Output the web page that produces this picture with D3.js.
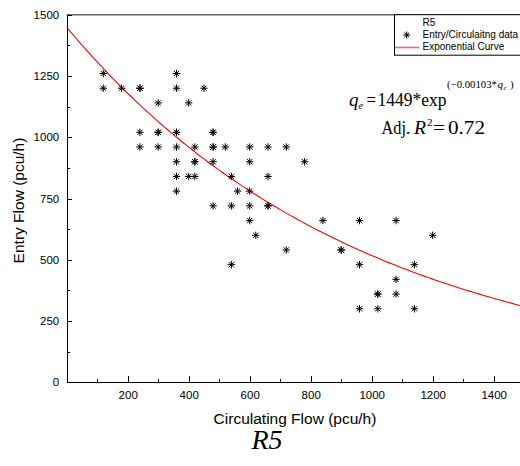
<!DOCTYPE html>
<html>
<head>
<meta charset="utf-8">
<script src="https://cdn.jsdelivr.net/npm/d3@7/dist/d3.min.js"></script>
<style>
  body { margin: 0; background: #fff; }
  svg { display: block; font-family: "Liberation Sans", Arial, sans-serif; }
  .axis path, .axis line { stroke: #000; shape-rendering: crispEdges; }
  .axis text { font-family: "Liberation Sans", Arial, sans-serif; font-size: 11.5px; fill: #000; }
  .label { font-size: 15.5px; fill: #000; }
  .serif { font-family: "Liberation Serif", "Times New Roman", serif; fill: #000; }
  .legend text { font-size: 10px; fill: #000; }
</style>
</head>
<body>
<div id="chart"></div>
<script>
(function () {
  // circulating flow (pcu/h) of every observation
  const circFlow = [
    120, 120, 180, 240, 240, 360, 360, 360, 450,
    300, 400,
    240, 300, 300, 360, 360, 480, 480,
    240, 300, 360, 420, 480, 480, 520, 600, 660, 720,
    360, 420, 420, 480, 600, 780,
    360, 400, 420, 540, 660,
    360, 560, 600,
    480, 540, 600, 660, 660,
    600, 840, 960, 1080,
    620, 1200,
    720, 900, 900,
    540, 960, 1140,
    1080,
    1020, 1020, 1080,
    960, 1020, 1140
  ];
  // entry flow (pcu/h), same order
  const entryFlow = [
    1260, 1200, 1200, 1200, 1200, 1260, 1260, 1200, 1200,
    1140, 1140,
    1020, 1020, 1020, 1020, 1020, 1020, 1020,
    960, 960, 960, 960, 960, 960, 960, 960, 960, 960,
    900, 900, 900, 900, 900, 900,
    840, 840, 840, 840, 840,
    780, 780, 780,
    720, 720, 720, 720, 720,
    660, 660, 660, 660,
    600, 600,
    540, 540, 540,
    480, 480, 480,
    420,
    360, 360, 360,
    300, 300, 300
  ];

  // fitted curve q_e = 1449 * exp(-0.00103 * q_c)
  const fitA = 1449;
  const fitB = -0.00103;

  const xTicks = [200, 400, 600, 800, 1000, 1200, 1400];
  const xMinor = [100, 300, 500, 700, 900, 1100, 1300, 1500];
  const yTicks = [0, 250, 500, 750, 1000, 1250, 1500];
  const yMinor = [125, 375, 625, 875, 1125, 1375];

  const legendLabels = ["R5", "Entry/Circulaitng data", "Exponential Curve"];

  const width = 520, height = 466;
  const plot = {left: 66.7, top: 14.7, right: 524.2, bottom: 382.3};

  const svg = d3.select("#chart").append("svg")
    .attr("width", width)
    .attr("height", height);

  const x = d3.scaleLinear().domain([0, 1500]).range([plot.left, plot.right]);
  const y = d3.scaleLinear().domain([0, 1500]).range([plot.bottom, plot.top]);

  // top frame line
  svg.append("line")
    .attr("x1", plot.left).attr("x2", width)
    .attr("y1", plot.top).attr("y2", plot.top)
    .attr("stroke", "#666")
    .attr("stroke-width", 1.6);

  // minor ticks first, then the main axes on top
  svg.append("g")
    .attr("class", "axis")
    .attr("transform", "translate(0," + plot.bottom + ")")
    .call(d3.axisBottom(x).tickValues(xMinor).tickSizeInner(-3.5).tickSizeOuter(0).tickFormat(""))
    .call(g => g.select(".domain").remove());

  svg.append("g")
    .attr("class", "axis")
    .attr("transform", "translate(" + plot.left + ",0)")
    .call(d3.axisLeft(y).tickValues(yMinor).tickSizeInner(-3).tickSizeOuter(0).tickFormat(""))
    .call(g => g.select(".domain").remove());

  svg.append("g")
    .attr("class", "axis")
    .attr("transform", "translate(0," + plot.bottom + ")")
    .call(d3.axisBottom(x).tickValues(xTicks).tickSizeInner(-6.5).tickSizeOuter(0)
      .tickPadding(9).tickFormat(d3.format("d")));

  svg.append("g")
    .attr("class", "axis")
    .attr("transform", "translate(" + plot.left + ",0)")
    .call(d3.axisLeft(y).tickValues(yTicks).tickSizeInner(-5).tickSizeOuter(0)
      .tickPadding(7.5).tickFormat(d3.format("d")));

  // axis titles
  svg.append("text")
    .attr("class", "label")
    .attr("x", 295)
    .attr("y", 423.5)
    .attr("text-anchor", "middle")
    .text("Circulating Flow (pcu/h)");

  svg.append("text")
    .attr("class", "label")
    .attr("transform", "translate(24," + ((plot.top + plot.bottom) / 2 + 2) + ") rotate(-90)")
    .attr("text-anchor", "middle")
    .text("Entry Flow (pcu/h)");

  // fitted curve
  const curveX = d3.range(0, 1501, 10);
  const line = d3.line()
    .x(function (d) { return x(d); })
    .y(function (d) { return y(fitA * Math.exp(fitB * d)); });

  svg.append("path")
    .attr("d", line(curveX))
    .attr("fill", "none")
    .attr("stroke", "#ff0000")
    .attr("stroke-width", 1.1);

  // asterisk markers
  function star(g, r) {
    [0, 45, 90, 135].forEach(function (a) {
      const t = a * Math.PI / 180;
      g.append("line")
        .attr("x1", -r * Math.cos(t)).attr("y1", -r * Math.sin(t))
        .attr("x2", r * Math.cos(t)).attr("y2", r * Math.sin(t));
    });
  }

  const points = svg.append("g")
    .attr("stroke", "#000")
    .attr("stroke-width", 1);

  circFlow.forEach(function (c, i) {
    const g = points.append("g")
      .attr("transform", "translate(" + x(c) + "," + y(entryFlow[i]) + ")");
    star(g, 3.7);
  });

  // legend
  const legend = svg.append("g").attr("class", "legend");
  legend.append("rect")
    .attr("x", 394.5).attr("y", plot.top)
    .attr("width", 140).attr("height", 40.5)
    .attr("fill", "#fff")
    .attr("stroke", "#000")
    .attr("stroke-width", 1);

  legendLabels.forEach(function (t, i) {
    legend.append("text")
      .attr("x", 422.5)
      .attr("y", 26 + i * 12.2)
      .text(t);
  });

  const ls = legend.append("g")
    .attr("transform", "translate(406.7,35)")
    .attr("stroke", "#000")
    .attr("stroke-width", 1);
  star(ls, 3.4);

  legend.append("line")
    .attr("x1", 395).attr("x2", 419.5)
    .attr("y1", 47.5).attr("y2", 47.5)
    .attr("stroke", "#ff6060")
    .attr("stroke-width", 1.6);

  // equation, each piece placed like the MathType object
  const eq = svg.append("g").attr("class", "serif");
  function put(tx, ty, str, size, italic, len) {
    const t = eq.append("text")
      .attr("x", tx).attr("y", ty)
      .attr("font-size", size)
      .attr("font-style", italic ? "italic" : "normal")
      .text(str);
    if (len) t.attr("textLength", len).attr("lengthAdjust", "spacingAndGlyphs");
  }
  put(349, 106, "q", 19, true, 9.5);
  put(358.5, 108.5, "e", 10, true);
  put(366.5, 106, "=", 19, false, 9.5);
  put(377.5, 106, "1449*exp", 19, false, 69);
  put(447, 88, "(\u22120.00103*", 11, false, 50);
  put(497.5, 88, "q", 11, true);
  put(503.5, 90, "c", 7, true);
  put(510, 88, ")", 11, false);

  put(381.5, 133.5, "Adj.", 19, false, 28.5);
  put(414, 133.5, "R", 19, true, 12);
  put(427, 126, "2", 11, false);
  put(433, 133.5, "=", 19, false, 12);
  put(448, 133.5, "0.72", 19, false, 37);

  // panel title
  svg.append("text")
    .attr("class", "serif")
    .attr("x", 267)
    .attr("y", 449)
    .attr("text-anchor", "middle")
    .attr("font-size", 28)
    .attr("font-style", "italic")
    .text("R5");
})();
</script>
</body>
</html>
